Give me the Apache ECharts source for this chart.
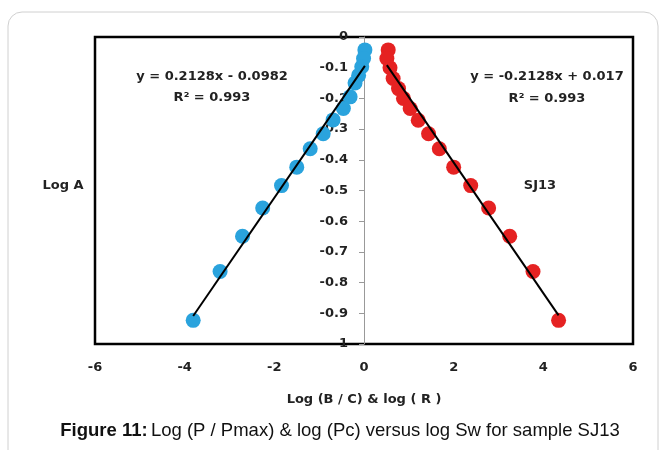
<!DOCTYPE html>
<html><head><meta charset="utf-8">
<script src="https://cdn.jsdelivr.net/npm/echarts@6/dist/echarts.min.js"></script>
<style>html,body{margin:0;padding:0;background:#fff}#c{width:665px;height:450px}</style>
</head><body><div id="c"></div>
<script>
// Data
const blueX = [0.02, -0.01, -0.05, -0.12, -0.2, -0.31, -0.46, -0.69, -0.91, -1.2, -1.5, -1.84, -2.26, -2.71, -3.21, -3.81];
const blueY = [-0.042, -0.07, -0.097, -0.125, -0.15, -0.195, -0.233, -0.27, -0.315, -0.364, -0.424, -0.484, -0.557, -0.649, -0.764, -0.923];
const redX = [0.54, 0.51, 0.58, 0.65, 0.77, 0.88, 1.03, 1.21, 1.44, 1.68, 2.0, 2.38, 2.78, 3.25, 3.77, 4.34];
const redY = [-0.042, -0.07, -0.10, -0.135, -0.168, -0.2, -0.233, -0.271, -0.315, -0.364, -0.424, -0.484, -0.557, -0.649, -0.764, -0.923];
const blueFit = {slope: 0.2128, intercept: -0.0982};
const redFit = {slope: -0.2128, intercept: 0.017};
const xTicks = [-6, -4, -2, 0, 2, 4, 6];

const pts = (xs, ys) => xs.map((x, i) => [x, ys[i]]);
const fitLine = (xs, f) => {
  const a = Math.min(...xs), b = Math.max(...xs);
  return [[a, f.slope * a + f.intercept], [b, f.slope * b + f.intercept]];
};

const G = {left: 95, right: 32, top: 37, bottom: 106};
const plotW = 665 - G.left - G.right;
const xMin = xTicks[0], xMax = xTicks[xTicks.length - 1];
const zeroOffset = -plotW * (0 - xMin) / (xMax - xMin);

const chart = echarts.init(document.getElementById('c'));
const F = 'DejaVu Sans';
const bold = {fontFamily: F, fontWeight: 'bold', fontSize: 13, color: '#222'};
const tf = 'bold 13px "DejaVu Sans"';
chart.setOption({
  animation: false,
  backgroundColor: '#fff',
  grid: Object.assign({show: true, borderColor: '#000', borderWidth: 2.5, backgroundColor: 'transparent'}, G),
  xAxis: {
    type: 'value', min: xMin, max: xMax, interval: 2,
    axisLine: {show: false, onZero: false}, axisTick: {show: false}, splitLine: {show: false},
    axisLabel: Object.assign({margin: 17}, bold),
    name: 'Log (B / C) & log ( R )', nameLocation: 'middle', nameGap: 49,
    nameTextStyle: bold
  },
  yAxis: {
    type: 'value', min: -1, max: 0, interval: 0.1, position: 'left', offset: zeroOffset,
    axisLine: {show: true, onZero: false, lineStyle: {color: '#999', width: 1}},
    axisTick: {show: true, length: 5, lineStyle: {color: '#999'}},
    splitLine: {show: false},
    axisLabel: Object.assign({margin: 16, formatter: v => v === 0 ? '0' : (v === -1 ? '1' : v.toFixed(1))}, bold)
  },
  series: [
    {type: 'scatter', data: pts(blueX, blueY), symbolSize: 15, itemStyle: {color: '#2aa3dd', opacity: 1}, z: 3},
    {type: 'scatter', data: pts(redX, redY), symbolSize: 15, itemStyle: {color: '#e52222', opacity: 1}, z: 3},
    {type: 'line', data: fitLine(blueX, blueFit), showSymbol: false, lineStyle: {color: '#000', width: 2}, z: 5},
    {type: 'line', data: fitLine(redX, redFit), showSymbol: false, lineStyle: {color: '#000', width: 2}, z: 5}
  ],
  graphic: [
    {type: 'rect', z: -10, shape: {x: 8, y: 12, width: 650, height: 460, r: 14}, style: {fill: 'transparent', stroke: '#d0d0d0', lineWidth: 1}},
    {type: 'text', x: 63, y: 186, style: {text: 'Log A', align: 'center', verticalAlign: 'middle', font: tf, fill: '#222'}},
    {type: 'text', x: 212, y: 77, style: {text: 'y = 0.2128x - 0.0982', align: 'center', verticalAlign: 'middle', font: tf, fill: '#222'}},
    {type: 'text', x: 212, y: 98, style: {text: 'R² = 0.993', align: 'center', verticalAlign: 'middle', font: tf, fill: '#222'}},
    {type: 'text', x: 547, y: 77, style: {text: 'y = -0.2128x + 0.017', align: 'center', verticalAlign: 'middle', font: tf, fill: '#222'}},
    {type: 'text', x: 547, y: 99, style: {text: 'R² = 0.993', align: 'center', verticalAlign: 'middle', font: tf, fill: '#222'}},
    {type: 'text', x: 540, y: 186, style: {text: 'SJ13', align: 'center', verticalAlign: 'middle', font: tf, fill: '#222'}},
    {type: 'text', x: 340, y: 431, style: {
      text: '{b|Figure 11:} {r|Log (P / Pmax) & log (Pc) versus log Sw for sample SJ13}',
      align: 'center', verticalAlign: 'middle',
      rich: {
        b: {fontFamily: 'Liberation Sans', fontWeight: 'bold', fontSize: 18.5, fill: '#111'},
        r: {fontFamily: 'Liberation Sans', fontSize: 18.5, fill: '#111'}
      }
    }}
  ]
});
</script></body></html>
